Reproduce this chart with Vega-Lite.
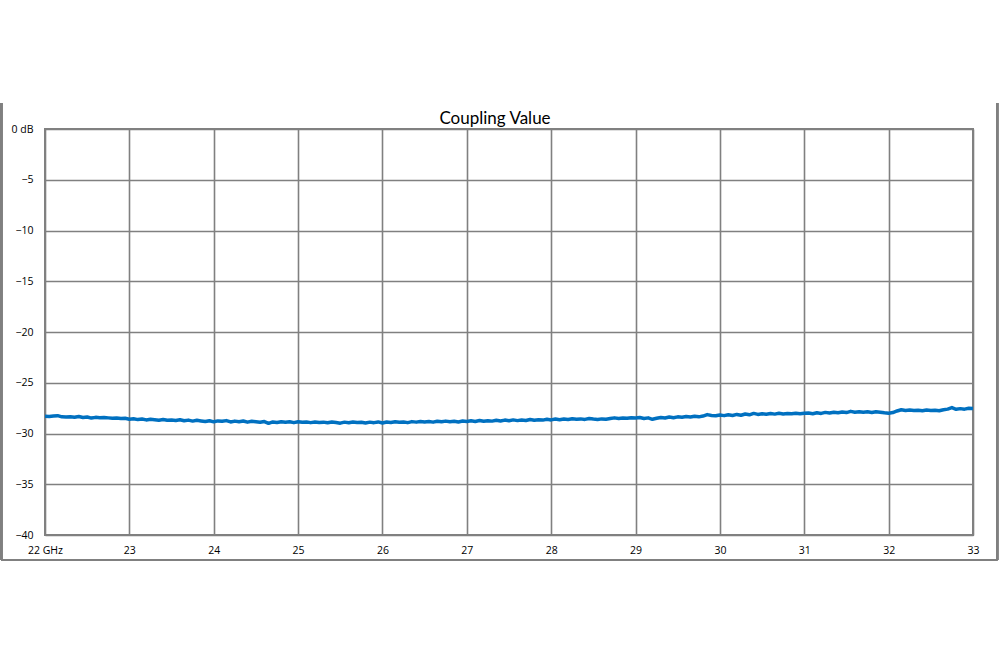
{
  "$schema": "https://vega.github.io/schema/vega-lite/v6.json",
  "width": 928,
  "height": 406,
  "autosize": "none",
  "padding": {"left": 45, "top": 129, "right": 27, "bottom": 131},
  "background": "#ffffff",
  "title": {"text": "Coupling Value", "font": "Lato", "fontSize": 17, "fontWeight": "normal", "color": "#000000", "anchor": "middle", "dx": -14, "offset": -26},
  "config": {
    "view": {"stroke": "#808080", "strokeWidth": 2},
    "axis": {"labelFont": "Open Sans", "labelFontSize": 10.5, "labelColor": "#000000", "grid": true, "gridColor": "#808080", "gridWidth": 1.6, "ticks": false, "domain": false, "title": null}
  },
  "data": {"values": [
    {"f":22.00,"db":-28.30},{"f":22.05,"db":-28.33},{"f":22.10,"db":-28.28},{"f":22.15,"db":-28.24},{"f":22.20,"db":-28.36},{"f":22.25,"db":-28.38},{"f":22.30,"db":-28.35},{"f":22.35,"db":-28.40},{"f":22.40,"db":-28.33},{"f":22.45,"db":-28.42},
    {"f":22.50,"db":-28.37},{"f":22.55,"db":-28.48},{"f":22.60,"db":-28.41},{"f":22.65,"db":-28.44},{"f":22.70,"db":-28.42},{"f":22.75,"db":-28.46},{"f":22.80,"db":-28.50},{"f":22.85,"db":-28.47},{"f":22.90,"db":-28.52},{"f":22.95,"db":-28.50},
    {"f":23.00,"db":-28.60},{"f":23.05,"db":-28.55},{"f":23.10,"db":-28.63},{"f":23.15,"db":-28.58},{"f":23.20,"db":-28.66},{"f":23.25,"db":-28.60},{"f":23.30,"db":-28.64},{"f":23.35,"db":-28.69},{"f":23.40,"db":-28.62},{"f":23.45,"db":-28.70},
    {"f":23.50,"db":-28.66},{"f":23.55,"db":-28.72},{"f":23.60,"db":-28.64},{"f":23.65,"db":-28.75},{"f":23.70,"db":-28.68},{"f":23.75,"db":-28.78},{"f":23.80,"db":-28.70},{"f":23.85,"db":-28.76},{"f":23.90,"db":-28.82},{"f":23.95,"db":-28.74},
    {"f":24.00,"db":-28.85},{"f":24.05,"db":-28.76},{"f":24.10,"db":-28.80},{"f":24.15,"db":-28.73},{"f":24.20,"db":-28.86},{"f":24.25,"db":-28.78},{"f":24.30,"db":-28.84},{"f":24.35,"db":-28.77},{"f":24.40,"db":-28.88},{"f":24.45,"db":-28.80},
    {"f":24.50,"db":-28.85},{"f":24.55,"db":-28.90},{"f":24.60,"db":-28.82},{"f":24.65,"db":-29.00},{"f":24.70,"db":-28.86},{"f":24.75,"db":-28.92},{"f":24.80,"db":-28.84},{"f":24.85,"db":-28.90},{"f":24.90,"db":-28.85},{"f":24.95,"db":-28.93},
    {"f":25.00,"db":-28.84},{"f":25.05,"db":-28.90},{"f":25.10,"db":-28.87},{"f":25.15,"db":-28.93},{"f":25.20,"db":-28.86},{"f":25.25,"db":-28.91},{"f":25.30,"db":-28.88},{"f":25.35,"db":-28.95},{"f":25.40,"db":-28.87},{"f":25.45,"db":-28.92},
    {"f":25.50,"db":-28.98},{"f":25.55,"db":-28.88},{"f":25.60,"db":-28.94},{"f":25.65,"db":-28.86},{"f":25.70,"db":-28.92},{"f":25.75,"db":-28.89},{"f":25.80,"db":-28.96},{"f":25.85,"db":-28.88},{"f":25.90,"db":-28.93},{"f":25.95,"db":-28.86},
    {"f":26.00,"db":-28.97},{"f":26.05,"db":-28.87},{"f":26.10,"db":-28.92},{"f":26.15,"db":-28.84},{"f":26.20,"db":-28.90},{"f":26.25,"db":-28.86},{"f":26.30,"db":-28.93},{"f":26.35,"db":-28.83},{"f":26.40,"db":-28.88},{"f":26.45,"db":-28.81},
    {"f":26.50,"db":-28.87},{"f":26.55,"db":-28.82},{"f":26.60,"db":-28.88},{"f":26.65,"db":-28.79},{"f":26.70,"db":-28.85},{"f":26.75,"db":-28.78},{"f":26.80,"db":-28.84},{"f":26.85,"db":-28.80},{"f":26.90,"db":-28.86},{"f":26.95,"db":-28.77},
    {"f":27.00,"db":-28.82},{"f":27.05,"db":-28.75},{"f":27.10,"db":-28.81},{"f":27.15,"db":-28.72},{"f":27.20,"db":-28.80},{"f":27.25,"db":-28.74},{"f":27.30,"db":-28.78},{"f":27.35,"db":-28.70},{"f":27.40,"db":-28.76},{"f":27.45,"db":-28.68},
    {"f":27.50,"db":-28.74},{"f":27.55,"db":-28.66},{"f":27.60,"db":-28.73},{"f":27.65,"db":-28.67},{"f":27.70,"db":-28.72},{"f":27.75,"db":-28.62},{"f":27.80,"db":-28.70},{"f":27.85,"db":-28.64},{"f":27.90,"db":-28.68},{"f":27.95,"db":-28.60},
    {"f":28.00,"db":-28.66},{"f":28.05,"db":-28.58},{"f":28.10,"db":-28.64},{"f":28.15,"db":-28.57},{"f":28.20,"db":-28.62},{"f":28.25,"db":-28.55},{"f":28.30,"db":-28.60},{"f":28.35,"db":-28.56},{"f":28.40,"db":-28.61},{"f":28.45,"db":-28.53},
    {"f":28.50,"db":-28.58},{"f":28.55,"db":-28.62},{"f":28.60,"db":-28.56},{"f":28.65,"db":-28.60},{"f":28.70,"db":-28.53},{"f":28.75,"db":-28.46},{"f":28.80,"db":-28.52},{"f":28.85,"db":-28.48},{"f":28.90,"db":-28.50},{"f":28.95,"db":-28.44},
    {"f":29.00,"db":-28.47},{"f":29.05,"db":-28.42},{"f":29.10,"db":-28.52},{"f":29.15,"db":-28.46},{"f":29.20,"db":-28.60},{"f":29.25,"db":-28.50},{"f":29.30,"db":-28.42},{"f":29.35,"db":-28.47},{"f":29.40,"db":-28.38},{"f":29.45,"db":-28.44},
    {"f":29.50,"db":-28.36},{"f":29.55,"db":-28.40},{"f":29.60,"db":-28.33},{"f":29.65,"db":-28.38},{"f":29.70,"db":-28.30},{"f":29.75,"db":-28.36},{"f":29.80,"db":-28.28},{"f":29.85,"db":-28.14},{"f":29.90,"db":-28.22},{"f":29.95,"db":-28.26},
    {"f":30.00,"db":-28.18},{"f":30.05,"db":-28.24},{"f":30.10,"db":-28.16},{"f":30.15,"db":-28.22},{"f":30.20,"db":-28.12},{"f":30.25,"db":-28.20},{"f":30.30,"db":-28.08},{"f":30.35,"db":-28.16},{"f":30.40,"db":-28.02},{"f":30.45,"db":-28.12},
    {"f":30.50,"db":-28.06},{"f":30.55,"db":-28.10},{"f":30.60,"db":-28.04},{"f":30.65,"db":-28.09},{"f":30.70,"db":-28.01},{"f":30.75,"db":-28.07},{"f":30.80,"db":-28.03},{"f":30.85,"db":-28.06},{"f":30.90,"db":-28.00},{"f":30.95,"db":-28.05},
    {"f":31.00,"db":-28.01},{"f":31.05,"db":-27.98},{"f":31.10,"db":-28.05},{"f":31.15,"db":-27.96},{"f":31.20,"db":-28.02},{"f":31.25,"db":-27.92},{"f":31.30,"db":-27.98},{"f":31.35,"db":-27.90},{"f":31.40,"db":-27.96},{"f":31.45,"db":-27.88},
    {"f":31.50,"db":-27.94},{"f":31.55,"db":-27.82},{"f":31.60,"db":-27.90},{"f":31.65,"db":-27.85},{"f":31.70,"db":-27.91},{"f":31.75,"db":-27.86},{"f":31.80,"db":-27.93},{"f":31.85,"db":-27.85},{"f":31.90,"db":-27.90},{"f":31.95,"db":-27.96},
    {"f":32.00,"db":-28.00},{"f":32.05,"db":-27.94},{"f":32.10,"db":-27.78},{"f":32.15,"db":-27.66},{"f":32.20,"db":-27.74},{"f":32.25,"db":-27.68},{"f":32.30,"db":-27.74},{"f":32.35,"db":-27.70},{"f":32.40,"db":-27.76},{"f":32.45,"db":-27.69},
    {"f":32.50,"db":-27.74},{"f":32.55,"db":-27.70},{"f":32.60,"db":-27.76},{"f":32.65,"db":-27.66},{"f":32.70,"db":-27.60},{"f":32.75,"db":-27.45},{"f":32.80,"db":-27.62},{"f":32.85,"db":-27.55},{"f":32.90,"db":-27.60},{"f":32.95,"db":-27.52},
    {"f":33.00,"db":-27.54}
  ]},
  "layer": [
    {
      "mark": {"type": "line", "color": "#0070c0", "strokeWidth": 3.5, "strokeJoin": "round", "clip": true},
      "encoding": {
        "x": {"field": "f", "type": "quantitative", "scale": {"domain": [22, 33], "nice": false, "zero": false},
              "axis": {"values": [22,23,24,25,26,27,28,29,30,31,32,33], "format": "d", "labelPadding": 10, "labelExpr": "datum.value == 22 ? '22 GHz' : datum.label", "labelFlush": false}},
        "y": {"field": "db", "type": "quantitative", "scale": {"domain": [-40, 0], "nice": false, "zero": false},
              "axis": {"values": [0,-5,-10,-15,-20,-25,-30,-35,-40], "format": "d", "labelPadding": 12, "labelExpr": "datum.value == 0 ? '0 dB' : datum.label"}}
      }
    },
    {
      "mark": {"type": "rule", "color": "#808080", "strokeWidth": 2, "clip": false},
      "encoding": {
        "x": {"datum": 21.48, "type": "quantitative", "scale": {"domain": [22, 33], "nice": false, "zero": false}},
        "y": {"datum": 2.56, "type": "quantitative", "scale": {"domain": [-40, 0], "nice": false, "zero": false}},
        "y2": {"datum": -42.46}
      }
    },
    {
      "mark": {"type": "rule", "color": "#808080", "strokeWidth": 2, "clip": false},
      "encoding": {
        "x": {"datum": 33.285, "type": "quantitative", "scale": {"domain": [22, 33], "nice": false, "zero": false}},
        "y": {"datum": 2.56, "type": "quantitative", "scale": {"domain": [-40, 0], "nice": false, "zero": false}},
        "y2": {"datum": -42.46}
      }
    },
    {
      "mark": {"type": "rule", "color": "#808080", "strokeWidth": 2, "clip": false},
      "encoding": {
        "x": {"datum": 21.48, "type": "quantitative", "scale": {"domain": [22, 33], "nice": false, "zero": false}},
        "x2": {"datum": 33.285},
        "y": {"datum": -42.46, "type": "quantitative", "scale": {"domain": [-40, 0], "nice": false, "zero": false}}
      }
    }
  ]
}
